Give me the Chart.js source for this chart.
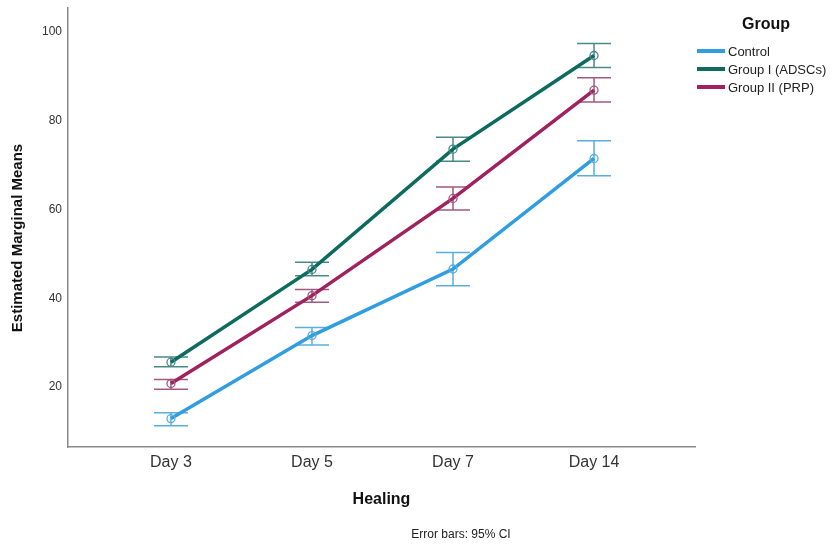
<!DOCTYPE html>
<html>
<head>
<meta charset="utf-8">
<script src="https://cdn.jsdelivr.net/npm/chart.js@4"></script>
<style>
  html, body { margin: 0; padding: 0; background: #fff; }
  #wrap { width: 836px; height: 544px; position: relative; }
</style>
</head>
<body>
<div id="wrap"><canvas id="chart"></canvas></div>
<script>
const days = ["Day 3", "Day 5", "Day 7", "Day 14"];
const groups = ["Control", "Group I (ADSCs)", "Group II (PRP)"];

const controlMean = [12.9, 31.6, 46.6, 71.5];
const controlLow = [11.3, 29.5, 42.8, 67.6];
const controlHigh = [14.2, 33.4, 50.3, 75.5];

const adscMean = [25.6, 46.5, 73.6, 94.7];
const adscLow = [24.6, 45.1, 70.9, 92.0];
const adscHigh = [26.8, 48.1, 76.3, 97.4];

const prpMean = [20.8, 40.6, 62.5, 86.9];
const prpLow = [19.5, 39.1, 59.9, 84.2];
const prpHigh = [21.7, 42.0, 65.1, 89.7];

const yTicks = [20, 40, 60, 80, 100];

const lineColors = ["#2f9de0", "#0d6b5e", "#a0215e"];
const barColors = ["#5aaede", "#4a8a86", "#a05a80"];

const means = [controlMean, adscMean, prpMean];
const lows = [controlLow, adscLow, prpLow];
const highs = [controlHigh, adscHigh, prpHigh];

const datasets = groups.map((g, i) => ({
  label: g,
  data: means[i].map((v, j) => ({ x: j, y: v })),
  borderColor: lineColors[i],
  borderWidth: 3.5,
  pointRadius: 4,
  pointBorderWidth: 1.3,
  pointBorderColor: barColors[i],
  pointBackgroundColor: "rgba(0,0,0,0)",
  fill: false,
  tension: 0
}));

const errorBars = {
  id: "errorBars",
  beforeDatasetsDraw(chart) {
    const { ctx, scales: { x, y } } = chart;
    ctx.save();
    ctx.lineWidth = 1.5;
    groups.forEach((g, i) => {
      ctx.strokeStyle = barColors[i];
      means[i].forEach((m, j) => {
        const px = x.getPixelForValue(j);
        const top = y.getPixelForValue(highs[i][j]);
        const bot = y.getPixelForValue(lows[i][j]);
        ctx.beginPath();
        ctx.moveTo(px, top); ctx.lineTo(px, bot);
        ctx.moveTo(px - 17, top); ctx.lineTo(px + 17, top);
        ctx.moveTo(px - 17, bot); ctx.lineTo(px + 17, bot);
        ctx.stroke();
      });
    });
    ctx.restore();
  },
  afterDraw(chart) {
    const { ctx, chartArea: a } = chart;
    ctx.save();
    ctx.fillStyle = "#111";
    // axis titles
    ctx.font = "bold 16px 'Liberation Sans', Arial, sans-serif";
    ctx.textAlign = "center";
    ctx.textBaseline = "middle";
    ctx.fillText("Healing", (a.left + a.right) / 2, 500);
    ctx.save();
    ctx.translate(18, 238);
    ctx.rotate(-Math.PI / 2);
    ctx.font = "bold 15px 'Liberation Sans', Arial, sans-serif";
    ctx.fillText("Estimated Marginal Means", 0, 0);
    ctx.restore();
    ctx.font = "12px 'Liberation Sans', Arial, sans-serif";
    ctx.fillStyle = "#222";
    ctx.fillText("Error bars: 95% CI", 461, 535);
    // legend
    ctx.fillStyle = "#111";
    ctx.font = "bold 16px 'Liberation Sans', Arial, sans-serif";
    ctx.fillText("Group", 766, 25);
    ctx.font = "13px 'Liberation Sans', Arial, sans-serif";
    ctx.textAlign = "left";
    const rows = [51, 69, 87];
    groups.forEach((g, i) => {
      ctx.strokeStyle = lineColors[i];
      ctx.lineWidth = 4;
      ctx.beginPath();
      ctx.moveTo(697, rows[i]); ctx.lineTo(725, rows[i]);
      ctx.stroke();
      ctx.fillStyle = "#222";
      ctx.fillText(g, 728, rows[i] + 1);
    });
    ctx.restore();
  }
};

new Chart(document.getElementById("chart"), {
  type: "line",
  data: { datasets },
  options: {
    responsive: true,
    maintainAspectRatio: false,
    animation: false,
    layout: { padding: { top: 8, right: 141, left: 0, bottom: 0 } },
    plugins: {
      legend: { display: false },
      tooltip: { enabled: false }
    },
    scales: {
      x: {
        type: "linear",
        min: -0.73,
        max: 3.716,
        afterBuildTicks: (s) => { s.ticks = days.map((d, i) => ({ value: i })); },
        afterFit: (s) => { s.height = 97; s.paddingLeft = 0; s.paddingRight = 0; },
        ticks: {
          callback: (v) => days[v],
          color: "#333",
          font: { family: "'Liberation Sans', Arial, sans-serif", size: 16 },
          padding: 6,
          maxRotation: 0
        },
        grid: { display: false, drawTicks: false },
        border: { color: "#8a8a8a", width: 1.5 }
      },
      y: {
        min: 6.5,
        max: 105.4,
        afterBuildTicks: (s) => { s.ticks = yTicks.map(v => ({ value: v })); },
        afterFit: (s) => { s.width = 68; s.paddingTop = 0; s.paddingBottom = 0; },
        ticks: {
          color: "#333",
          font: { family: "'Liberation Sans', Arial, sans-serif", size: 12 },
          padding: 6
        },
        grid: { display: false, drawTicks: false },
        border: { color: "#8a8a8a", width: 1.5 }
      }
    }
  },
  plugins: [errorBars]
});
</script>
</body>
</html>
